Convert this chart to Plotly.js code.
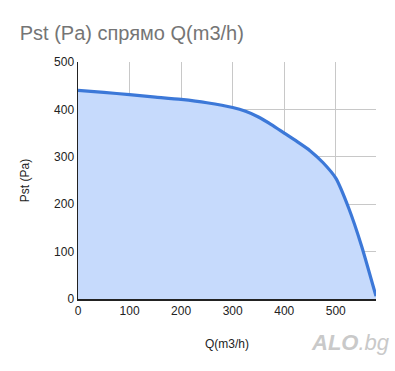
<!DOCTYPE html>
<html>
<head>
<meta charset="utf-8">
<script src="https://cdn.plot.ly/plotly-3.0.1.min.js"></script>
<style>html,body{margin:0;padding:0;background:#fff;}#chart{width:395px;height:371px;}</style>
</head>
<body>
<div id="chart"></div>
<script>
var flowQ = [0, 50, 100, 150, 200, 250, 300, 325, 350, 375, 400, 425, 450, 475, 500, 525, 550, 578];
var pressurePst = [440, 436, 431, 426, 421, 414, 404, 396, 384, 368, 350, 332, 313, 288, 255, 192, 112, 6];
var xTicks = [0, 100, 200, 300, 400, 500];
var yTicks = [0, 100, 200, 300, 400, 500];

var trace = {
  x: flowQ,
  y: pressurePst,
  type: 'scatter',
  mode: 'lines',
  fill: 'tozeroy',
  fillcolor: 'rgba(198,218,252,1)',
  line: {color: '#3c78d8', width: 3.2, shape: 'spline', smoothing: 0.6},
  hoverinfo: 'skip'
};

var layout = {
  width: 395, height: 371,
  margin: {l: 78, r: 19, t: 62, b: 72},
  paper_bgcolor: '#fff', plot_bgcolor: '#fff',
  font: {family: 'Liberation Sans, Arial, sans-serif', color: '#222', size: 12},
  title: {text: 'Pst (Pa) спрямо Q(m3/h)', x: 0.05, xanchor: 'left', y: 0.912, yanchor: 'middle',
          font: {size: 20, color: '#757575', family: 'Liberation Sans, Arial, sans-serif'}},
  showlegend: false,
  xaxis: {
    range: [0, 578], tickvals: xTicks, ticktext: xTicks.map(String),
    showgrid: true, gridcolor: '#c8c8c8', gridwidth: 1,
    zeroline: false, showline: true, linecolor: '#222', linewidth: 1.5,
    ticks: '', tickfont: {size: 12, color: '#222'},
    title: {text: 'Q(m3/h)', font: {size: 12, color: '#222'}, standoff: 22}
  },
  yaxis: {
    range: [0, 500], tickvals: yTicks, ticktext: yTicks.map(String),
    showgrid: true, gridcolor: '#c8c8c8', gridwidth: 1,
    zeroline: false, showline: true, linecolor: '#222', linewidth: 1.5,
    ticks: '', tickfont: {size: 12, color: '#222'},
    title: {text: 'Pst (Pa)', font: {size: 12, color: '#222'}, standoff: 22}
  },
  annotations: [{
    text: '<b><i>ALO</i></b><i>.bg</i>', xref: 'paper', yref: 'paper',
    x: 1.055, y: -0.185, xanchor: 'right', yanchor: 'middle', showarrow: false,
    font: {size: 22, color: '#c9c9c9', family: 'Liberation Sans, Arial, sans-serif'}
  }]
};

Plotly.newPlot('chart', [trace], layout, {displayModeBar: false, staticPlot: true});
</script>
</body>
</html>
